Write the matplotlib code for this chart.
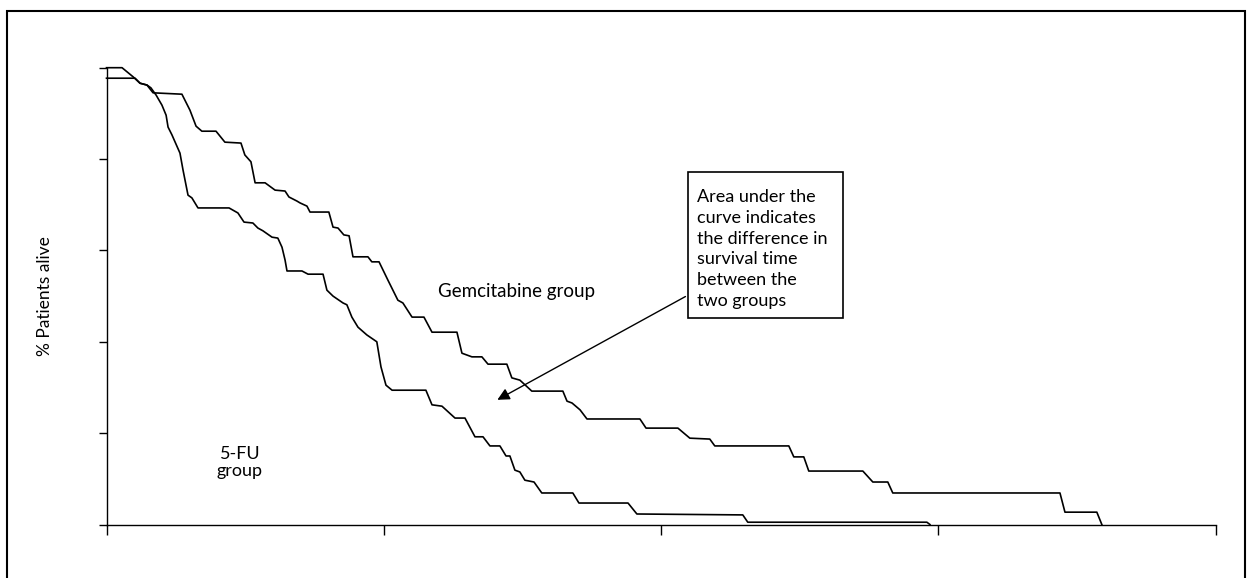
import matplotlib
matplotlib.use("Agg")
import matplotlib.pyplot as plt
from matplotlib.patches import Rectangle

plt.rcParams['font.family'] = ['Lato', 'DejaVu Sans']

# survival curves, time axis in arbitrary units (ticks every 10), % alive
fu_t = [0, 0.56, 0.96, 1.21, 1.46, 1.60, 1.79, 2.00, 2.15, 2.22,
        2.36, 2.65, 2.76, 2.94, 3.08, 3.30, 4.42, 4.74, 4.96, 5.28,
        5.46, 5.64, 5.97, 6.18, 6.33, 6.44, 6.51, 7.05, 7.27, 7.81,
        7.95, 8.17, 8.53, 8.67, 8.85, 9.07, 9.39, 9.75, 9.90, 10.08,
        10.30, 11.52, 11.74, 12.10, 12.57, 12.93, 13.29, 13.58, 13.83, 14.19,
        14.41, 14.55, 14.73, 14.91, 15.09, 15.42, 15.70, 16.82, 17.04, 18.81,
        19.13, 22.95, 23.13, 29.59, 29.70]
fu_s = [100, 100, 98.0, 96.6, 96.2, 95.6, 94.0, 91.8, 89.6, 87.0,
        85.3, 81.3, 77.6, 72.1, 71.5, 69.3, 69.3, 68.2, 66.2, 66.0,
        64.9, 64.3, 62.9, 62.7, 60.7, 57.9, 55.5, 55.5, 54.8, 54.8,
        51.3, 50.0, 48.5, 48.1, 45.4, 43.2, 41.5, 40.0, 34.5, 30.5,
        29.4, 29.4, 26.2, 25.9, 23.3, 23.3, 19.2, 19.2, 17.2, 17.2,
        15.0, 15.0, 11.9, 11.5, 9.7, 9.3, 6.9, 6.9, 4.7, 4.7,
        2.3, 2.1, 0.5, 0.5, 0]

gem_t = [0, 1.03, 1.21, 1.46, 1.68, 2.72, 3.01, 3.23, 3.44, 3.95,
         4.27, 4.85, 4.99, 5.21, 5.36, 5.72, 6.08, 6.44, 6.58, 6.87,
         6.98, 7.23, 7.34, 8.02, 8.17, 8.35, 8.56, 8.75, 8.89, 9.43,
         9.57, 9.83, 10.15, 10.51, 10.69, 11.02, 11.45, 11.74, 12.64, 12.82,
         13.18, 13.54, 13.76, 14.44, 14.62, 14.91, 15.34, 16.46, 16.61, 16.79,
         17.08, 17.33, 19.24, 19.46, 20.61, 21.04, 21.76, 21.94, 24.61, 24.79,
         25.15, 25.33, 27.28, 27.64, 28.18, 28.36, 34.39, 34.57, 35.72, 35.90]
gem_s = [97.7, 97.7, 96.6, 96.2, 94.5, 94.2, 90.7, 87.2, 86.1, 86.1,
         83.7, 83.5, 80.9, 79.4, 74.8, 74.8, 73.2, 73.0, 71.7, 70.8,
         70.4, 69.7, 68.4, 68.4, 65.1, 64.9, 63.4, 63.2, 58.6, 58.6,
         57.5, 57.5, 53.5, 49.1, 48.5, 45.4, 45.4, 42.1, 42.1, 37.5,
         36.7, 36.7, 35.1, 35.1, 32.1, 31.6, 29.2, 29.2, 27.0, 26.6,
         25.1, 23.1, 23.1, 21.1, 21.1, 18.9, 18.7, 17.2, 17.2, 14.8,
         14.8, 11.7, 11.7, 9.3, 9.3, 6.9, 6.9, 2.7, 2.7, 0]

x_ticks = [0, 10, 20, 30, 40]
y_ticks = [0, 20, 40, 60, 80, 100]

note = "Area under the\ncurve indicates\nthe difference in\nsurvival time\nbetween the\ntwo groups"

fig = plt.figure(figsize=(12.52, 5.78), dpi=100)
ax = fig.add_axes([106.5 / 1252, 53.5 / 578, 1109 / 1252, 456.8 / 578])

ax.plot(fu_t, fu_s, color='black', lw=1.2, clip_on=False)
ax.plot(gem_t, gem_s, color='black', lw=1.2, clip_on=False)

ax.set_xlim(0, 40)
ax.set_ylim(0, 100)
ax.set_xticks(x_ticks)
ax.set_yticks(y_ticks)
ax.set_xticklabels([])
ax.set_yticklabels([])
ax.tick_params(axis='x', direction='out', length=7, width=1)
ax.tick_params(axis='y', direction='out', length=6, width=1)
for side in ['top', 'right']:
    ax.spines[side].set_visible(False)
for side in ['left', 'bottom']:
    ax.spines[side].set_linewidth(1)

fig.text(45 / 1252, 1 - 296 / 578, "% Patients alive", rotation=90,
         ha='center', va='center', fontsize=12.5)

ax.text(14.8, 51.1, "Gemcitabine group", ha='center', va='center', fontsize=13.5)
ax.text(4.81, 13.5, "5-FU\ngroup", ha='center', va='center', fontsize=13,
        linespacing=1.1)

# note box with arrow into the gap between the curves
ax.add_patch(Rectangle((20.97, 45.2), 5.59, 32.0, fill=False, ec='black',
                       lw=1.2, clip_on=False))
ax.text(21.3, 73.4, note, ha='left', va='top', fontsize=13, linespacing=1.36)
ax.annotate("", xy=(14.01, 27.0), xytext=(20.97, 50.2),
            arrowprops=dict(arrowstyle='-|>', color='black', lw=1,
                            mutation_scale=18))

fig.patches.append(Rectangle((7 / 1252, -0.05), 1238 / 1252, 0.05 + 567 / 578,
                             transform=fig.transFigure, fill=False,
                             ec='black', lw=1.5))

fig.savefig("out.png", dpi=100)
